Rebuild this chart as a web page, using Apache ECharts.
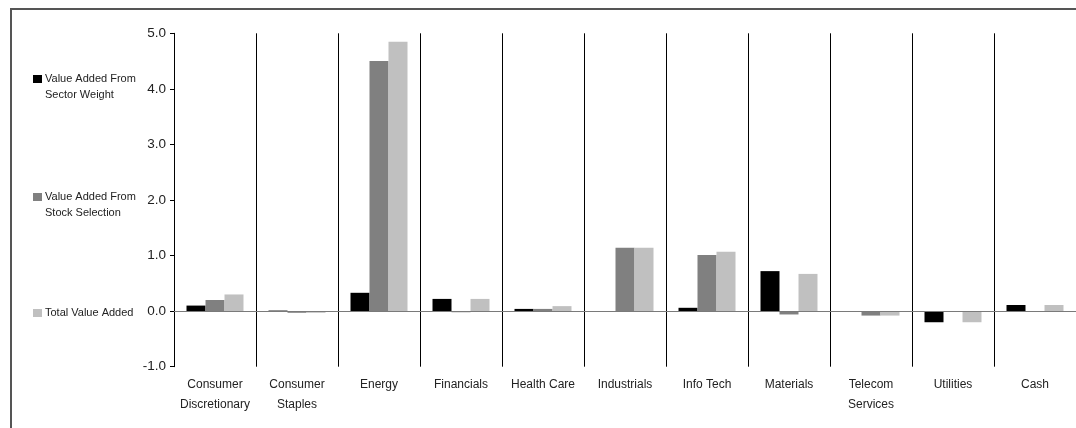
<!DOCTYPE html>
<html>
<head>
<meta charset="utf-8">
<script src="https://cdn.jsdelivr.net/npm/echarts@6/dist/echarts.min.js"></script>
<style>
  html, body { margin: 0; padding: 0; background: #fff; }
  #chart { width: 1076px; height: 428px; }
</style>
</head>
<body>
<div id="chart"></div>
<script>
// Sector attribution: value added by sector weight, stock selection and total
const categories = [
  'Consumer\nDiscretionary', 'Consumer\nStaples', 'Energy', 'Financials', 'Health Care',
  'Industrials', 'Info Tech', 'Materials', 'Telecom\nServices', 'Utilities', 'Cash'
];
const seriesNames = [
  'Value Added From\nSector Weight',
  'Value Added From\nStock Selection',
  'Total Value Added'
];
const sectorWeight   = [0.10, 0.01, 0.33, 0.22, 0.04, 0.00, 0.06, 0.72, 0.00, -0.20, 0.11];
const stockSelection = [0.20, -0.03, 4.50, -0.02, 0.04, 1.14, 1.01, -0.06, -0.08, 0.00, 0.00];
const totalValue     = [0.30, -0.03, 4.85, 0.22, 0.09, 1.14, 1.07, 0.67, -0.08, -0.20, 0.11];
const yTicks = { min: -1, max: 5, interval: 1 };

const colors = ['#000000', '#808080', '#c0c0c0'];
const font = '"Liberation Sans", Arial, sans-serif';

const chart = echarts.init(document.getElementById('chart'), null, { renderer: 'canvas' });

// key down the left margin: swatch beside the first line of each name
const keyRows = [79, 197, 313];
const keyGraphics = [];
seriesNames.forEach((name, i) => {
  keyGraphics.push({
    type: 'rect',
    silent: true,
    shape: { x: 33, y: keyRows[i] - 4, width: 9, height: 8 },
    style: { fill: colors[i] }
  });
  keyGraphics.push({
    type: 'text',
    silent: true,
    x: 45,
    y: keyRows[i] - 8,
    style: {
      text: name,
      fontFamily: font,
      fontSize: 11,
      lineHeight: 16,
      fill: '#222',
      align: 'left',
      verticalAlign: 'top'
    }
  });
});

const dataSets = [sectorWeight, stockSelection, totalValue];
const series = dataSets.map((vals, i) => ({
  name: seriesNames[i],
  type: 'bar',
  data: vals,
  barWidth: 19,
  barGap: '0%',
  itemStyle: { color: colors[i] },
  emphasis: { disabled: true },
  animation: false
}));
// horizontal line through zero
series[0].markLine = {
  silent: true,
  symbol: ['none', 'none'],
  label: { show: false },
  lineStyle: { color: '#7a7a7a', width: 1, type: 'solid' },
  data: [{ yAxis: 0 }],
  animation: false
};

chart.setOption({
  backgroundColor: '#ffffff',
  animation: false,
  grid: { left: 174, top: 33.3, right: -1, bottom: 61.3, containLabel: false },
  xAxis: {
    type: 'category',
    data: categories,
    boundaryGap: true,
    axisLine: { show: false },
    axisTick: { show: true, length: 6, lineStyle: { color: '#000' } },
    splitLine: { show: true, lineStyle: { color: '#000', width: 1 } },
    axisLabel: {
      interval: 0,
      margin: 8,
      fontFamily: font,
      fontSize: 12,
      lineHeight: 20,
      color: '#222'
    }
  },
  yAxis: {
    type: 'value',
    min: yTicks.min,
    max: yTicks.max,
    interval: yTicks.interval,
    axisLine: { show: true, lineStyle: { color: '#000' } },
    axisTick: { show: true, length: 4, lineStyle: { color: '#000' } },
    splitLine: { show: false },
    axisLabel: {
      margin: 8,
      fontFamily: font,
      fontSize: 13.5,
      color: '#222',
      formatter: v => v.toFixed(1)
    }
  },
  graphic: [{
    type: 'rect',
    shape: { x: 11, y: 9, width: 1200, height: 600 },
    style: { fill: 'none', stroke: '#555', lineWidth: 2 },
    silent: true
  }].concat(keyGraphics),
  series: series
});
</script>
</body>
</html>
